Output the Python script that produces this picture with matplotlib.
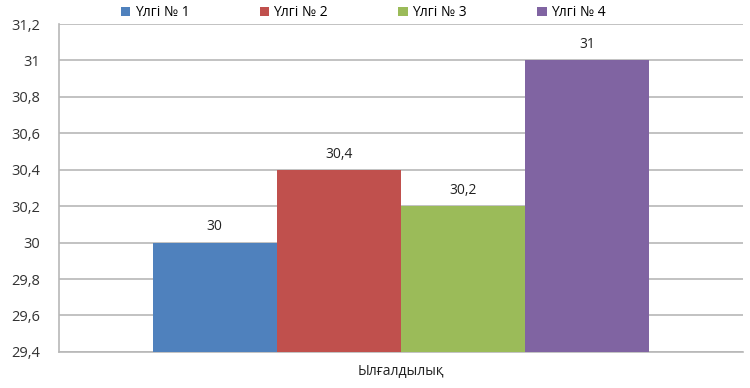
import matplotlib.pyplot as plt
import numpy as np
from matplotlib.ticker import FuncFormatter, MultipleLocator

plt.rcParams['font.family'] = ['Open Sans', 'DejaVu Sans']

# data
category = 'Ылғалдылық'
series = ['Үлгі № 1', 'Үлгі № 2', 'Үлгі № 3', 'Үлгі № 4']
values = [30.0, 30.4, 30.2, 31.0]
value_labels = ['30', '30,4', '30,2', '31']
colors = ['#4F81BD', '#C0504D', '#9BBB59', '#8064A2']

fig = plt.figure(figsize=(7.5, 3.88), dpi=100)
ax = fig.add_axes([0.079, 0.093, 0.911, 0.845])

w = 0.1816
offsets = (np.arange(len(series)) - 1.5) * w
for off, v, lab, c, name in zip(offsets, values, value_labels, colors, series):
    ax.bar(off, v - 29.4, bottom=29.4, width=w, color=c, label=name, zorder=3)
    ax.text(off, v + 0.045, lab, ha='center', va='bottom', fontsize=10, color='#222222')

ax.set_xlim(-0.5, 0.5)
ax.set_ylim(29.4, 31.2)
ax.yaxis.set_major_locator(MultipleLocator(0.2))

def fmt(y, pos):
    s = ('%.1f' % y).rstrip('0').rstrip('.')
    return s.replace('.', ',')

ax.yaxis.set_major_formatter(FuncFormatter(fmt))
ax.set_xticks([0])
ax.set_xticklabels([category])
ax.tick_params(axis='x', length=0, pad=9, labelsize=10, colors='#222222')
ax.tick_params(axis='y', length=0, pad=14, labelsize=10.5, colors='#333333')

ax.grid(axis='y', color='#b8b8b8', linewidth=1.2, zorder=0)
for s in ['top', 'right']:
    ax.spines[s].set_visible(False)
ax.spines['left'].set_color('#b8b8b8')
ax.spines['bottom'].set_color('#b8b8b8')
ax.spines['left'].set_linewidth(1.2)
ax.spines['bottom'].set_linewidth(1.2)

ax.legend(loc='center left', bbox_to_anchor=(0.09, 1.034), ncol=4, frameon=False,
          fontsize=10, handlelength=0.7, handleheight=0.7, handletextpad=0.3,
          columnspacing=5.05, borderaxespad=0, borderpad=0)

fig.savefig('out.png', dpi=100)
